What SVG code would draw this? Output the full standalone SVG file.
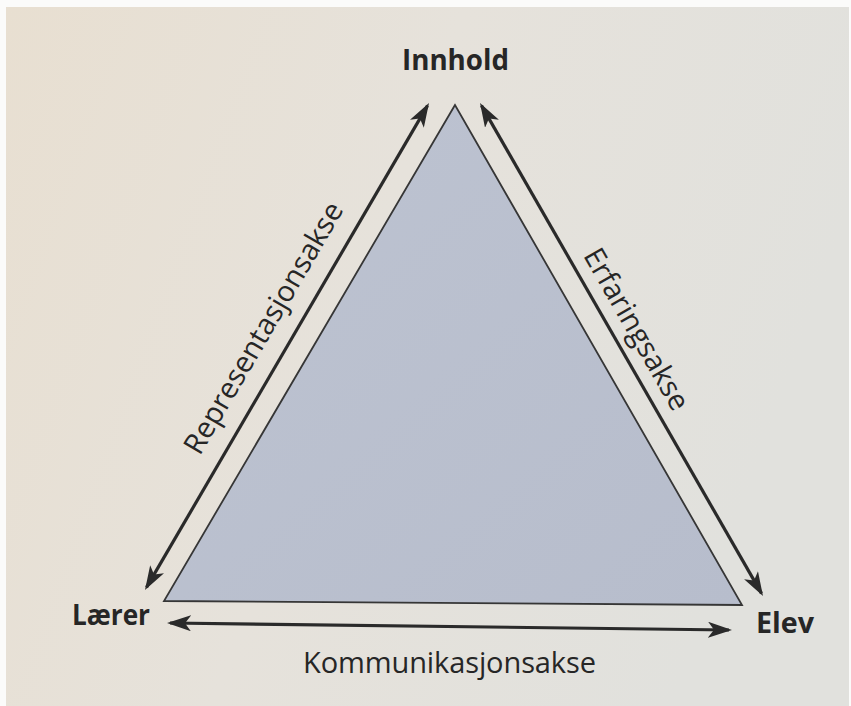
<svg xmlns="http://www.w3.org/2000/svg" width="851" height="706" viewBox="0 0 851 706">
  <style>
    .lbl { font-family: "Open Sans", "Liberation Sans", sans-serif; fill: #262626; }
    .bold { font-weight: 700; font-size: 29px; }
    .axis { font-weight: 400; font-size: 29px; }
    .arrow { stroke: #2a2a2a; stroke-width: 3.2; fill: none; marker-start: url(#head); marker-end: url(#head); }
  </style>
  <defs>
    <linearGradient id="paper" x1="0" y1="0" x2="1" y2="0.3">
      <stop offset="0" stop-color="#e8dfd1"/>
      <stop offset="0.5" stop-color="#e6e2db"/>
      <stop offset="1" stop-color="#e1e1dd"/>
    </linearGradient>
    <linearGradient id="tri" x1="0" y1="0" x2="1" y2="1">
      <stop offset="0" stop-color="#bdc3d1"/>
      <stop offset="1" stop-color="#b7bdcc"/>
    </linearGradient>
    <marker id="head" viewBox="0 0 24 16" refX="21" refY="8" markerWidth="24" markerHeight="16" markerUnits="userSpaceOnUse" orient="auto-start-reverse">
      <path d="M0,0 L24,8 L0,16 L6,8 Z" fill="#2a2a2a"/>
    </marker>
  </defs>

  <rect x="0" y="0" width="851" height="706" fill="#fbfbfa"/>
  <rect x="6" y="7" width="843" height="699" fill="url(#paper)"/>

  <g id="triangle">
    <polygon points="455,105 164,601 742,605" fill="url(#tri)" stroke="#363636" stroke-width="1.8" stroke-linejoin="miter"/>
  </g>

  <g id="connectors">
    <line id="representasjonsakse-arrow" class="arrow" x1="146.5" y1="587.4" x2="427.5" y2="105.6"/>
    <line id="erfaringsakse-arrow" class="arrow" x1="481.5" y1="105.6" x2="761.5" y2="593.4"/>
    <line id="kommunikasjonsakse-arrow" class="arrow" x1="170" y1="623" x2="729" y2="630"/>
  </g>

  <g id="node-innhold">
    <text class="lbl bold" x="455.5" y="70" text-anchor="middle" textLength="107" lengthAdjust="spacingAndGlyphs">Innhold</text>
  </g>
  <g id="node-laerer">
    <text class="lbl bold" x="72" y="625" textLength="78" lengthAdjust="spacingAndGlyphs">Lærer</text>
  </g>
  <g id="node-elev">
    <text class="lbl bold" x="756" y="633" textLength="58" lengthAdjust="spacingAndGlyphs">Elev</text>
  </g>

  <g id="axis-labels">
    <text class="lbl axis" text-anchor="middle" transform="translate(272,333) rotate(-59.7)">Representasjonsakse</text>
    <text class="lbl axis" text-anchor="middle" transform="translate(628,334) rotate(60.1)">Erfaringsakse</text>
    <text class="lbl axis" x="449.5" y="673" text-anchor="middle" textLength="293">Kommunikasjonsakse</text>
  </g>
</svg>
